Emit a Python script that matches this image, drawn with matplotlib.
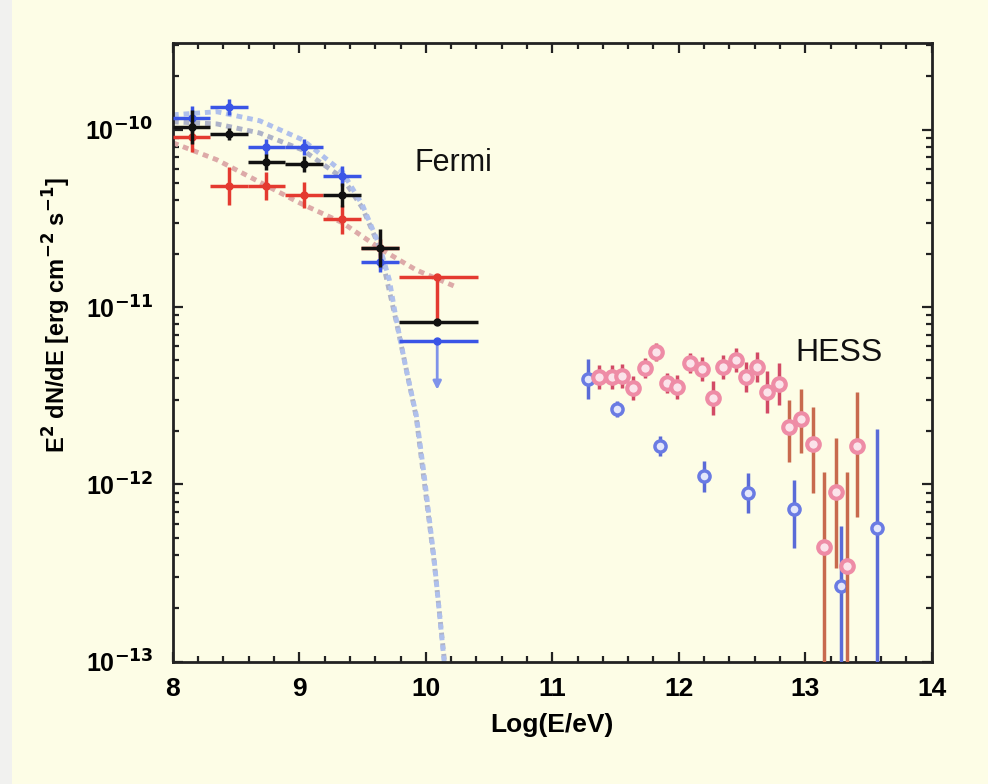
import numpy as np
import matplotlib
matplotlib.use('Agg')
import matplotlib.pyplot as plt
from matplotlib import font_manager
from matplotlib.ticker import MultipleLocator, FixedLocator, LogLocator

# Fermi bins (log E) and fluxes for three states
fermi_x = [8.15, 8.44, 8.74, 9.04, 9.34, 9.64, 10.09]
fermi_lo = [8.0, 8.29, 8.59, 8.89, 9.19, 9.49, 9.79]
fermi_hi = [8.29, 8.59, 8.89, 9.19, 9.49, 9.79, 10.41]

blue_y = [1.16e-10, 1.35e-10, 8.05e-11, 8.05e-11, 5.5e-11, 1.8e-11, 6.4e-12]
blue_ylo = [0.99e-10, 1.22e-10, 7.25e-11, 7.25e-11, 4.83e-11, 1.58e-11, 6.4e-12]
blue_yhi = [1.36e-10, 1.50e-10, 8.9e-11, 8.9e-11, 6.26e-11, 2.05e-11, 6.4e-12]
blue_ul_to = 3.3e-12

black_y = [1.04e-10, 9.5e-11, 6.6e-11, 6.4e-11, 4.3e-11, 2.15e-11, 8.2e-12]
black_ylo = [0.835e-10, 8.8e-11, 5.95e-11, 5.77e-11, 3.67e-11, 1.68e-11, 8.2e-12]
black_yhi = [1.30e-10, 1.03e-10, 7.3e-11, 7.1e-11, 5.04e-11, 2.75e-11, 8.2e-12]

red_y = [9.1e-11, 4.83e-11, 4.83e-11, 4.3e-11, 3.13e-11, 2.15e-11, 1.48e-11]
red_ylo = [7.5e-11, 3.77e-11, 4.02e-11, 3.63e-11, 2.6e-11, 1.9e-11, 8.2e-12]
red_yhi = [1.10e-10, 6.2e-11, 5.8e-11, 5.1e-11, 3.75e-11, 2.43e-11, 1.48e-11]

# model curves
cblue_x = [8.0, 8.347, 8.686, 9.025, 9.341, 9.498, 9.632, 9.711, 9.767, 9.845, 9.924, 9.987, 10.066, 10.145, 10.17]
cblue_y = [1.216e-10, 1.265e-10, 1.125e-10, 8.79e-11, 5.79e-11, 3.78e-11, 2.24e-11, 1.43e-11, 8.47e-12,
           4.43e-12, 2.47e-12, 1.13e-12, 3.76e-13, 1.0e-13, 6e-14]
cgrey_x = [8.0, 8.347, 8.686, 9.025, 9.341, 9.498, 9.632, 9.767, 9.924, 10.066, 10.18]
cgrey_y = [1.11e-10, 1.08e-10, 9.6e-11, 7.7e-11, 5.36e-11, 3.63e-11, 2.19e-11, 8.26e-12, 2.40e-12, 3.66e-13, 6e-14]
cred_x = [8.0, 8.347, 8.607, 9.002, 9.341, 9.656, 9.924, 10.24]
cred_y = [8.45e-11, 6.78e-11, 5.43e-11, 3.87e-11, 2.99e-11, 2.10e-11, 1.62e-11, 1.30e-11]

# HESS points
hess_x = [11.37, 11.47, 11.55, 11.64, 11.73, 11.82, 11.91, 11.99, 12.09, 12.18, 12.27, 12.35,
          12.45, 12.53, 12.62, 12.70, 12.79, 12.87, 12.97, 13.06, 13.15, 13.24, 13.33, 13.41]
hess_y = [4.03e-12, 4.03e-12, 4.10e-12, 3.49e-12, 4.53e-12, 5.55e-12, 3.72e-12, 3.56e-12, 4.83e-12,
          4.47e-12, 3.07e-12, 4.62e-12, 5.05e-12, 4.06e-12, 4.59e-12, 3.34e-12, 3.69e-12, 2.10e-12,
          2.33e-12, 1.69e-12, 4.41e-13, 9.1e-13, 3.48e-13, 1.65e-12]
hess_ylo = [3.45e-12, 3.45e-12, 3.51e-12, 2.99e-12, 3.98e-12, 4.94e-12, 3.27e-12, 3.05e-12, 4.24e-12,
            3.82e-12, 2.46e-12, 3.95e-12, 4.32e-12, 3.34e-12, 3.78e-12, 2.54e-12, 2.81e-12, 1.34e-12,
            1.50e-12, 8.9e-13, 1e-14, 3.37e-13, 1e-14, 6.59e-13]
hess_yhi = [4.71e-12, 4.71e-12, 4.79e-12, 4.08e-12, 5.16e-12, 6.24e-12, 4.24e-12, 4.16e-12, 5.50e-12,
            5.23e-12, 3.83e-12, 5.40e-12, 5.90e-12, 4.93e-12, 5.58e-12, 4.39e-12, 4.85e-12, 3.00e-12,
            3.45e-12, 2.73e-12, 1.18e-12, 1.82e-12, 1.18e-12, 3.34e-12]

hessb_x = [11.28, 11.51, 11.85, 12.20, 12.55, 12.91, 13.28, 13.57]
hessb_y = [3.93e-12, 2.66e-12, 1.65e-12, 1.11e-12, 8.9e-13, 7.26e-13, 2.68e-13, 5.66e-13]
hessb_ylo = [3.03e-12, 2.40e-12, 1.45e-12, 0.91e-12, 6.9e-13, 4.38e-13, 1e-14, 1e-14]
hessb_yhi = [5.10e-12, 2.95e-12, 1.88e-12, 1.35e-12, 1.16e-12, 1.06e-12, 5.8e-13, 2.05e-12]

y_major = [1e-13, 1e-12, 1e-11, 1e-10]


def pick_font(names):
    for n in names:
        try:
            font_manager.findfont(n, fallback_to_default=False)
            return n
        except Exception:
            pass
    return 'DejaVu Sans'


axis_font = pick_font(['Liberation Sans Narrow', 'Liberation Sans', 'DejaVu Sans'])
label_font = pick_font(['Liberation Sans', 'DejaVu Sans'])

plt.rcParams['font.family'] = [axis_font, 'DejaVu Sans']
plt.rcParams['font.weight'] = 'bold'
plt.rcParams['axes.labelweight'] = 'bold'
plt.rcParams['mathtext.default'] = 'bf'

cream = '#FDFDE6'
fig = plt.figure(figsize=(9.88, 7.84), dpi=100, facecolor=cream)
fig.patches.append(plt.Rectangle((0, 0), 12 / 988, 1, transform=fig.transFigure,
                                 facecolor='#F1F1EF', edgecolor='none'))
ax = fig.add_axes([0.175, 0.156, 0.768, 0.7895])
ax.set_facecolor(cream)


def errs(y, lo, hi):
    y = np.array(y)
    return [y - np.array(lo), np.array(hi) - y]


xerr = [np.array(fermi_x) - np.array(fermi_lo), np.array(fermi_hi) - np.array(fermi_x)]

# model curves
ax.plot(cred_x, cred_y, color='#DDAAA8', lw=3.5, ls=(0, (1.2, 1.0)), zorder=2)
ax.plot(cgrey_x, cgrey_y, color='#AEB3C8', lw=3.5, ls=(0, (1.2, 1.0)), zorder=2)
ax.plot(cblue_x, cblue_y, color='#AFC0EC', lw=3.5, ls=(0, (1.2, 1.0)), zorder=2)

# Fermi points
ax.errorbar(fermi_x, blue_y, xerr=xerr, yerr=errs(blue_y, blue_ylo, blue_yhi), fmt='o', ms=5,
            color='#3A55E6', elinewidth=2.5, capsize=0, zorder=4)
ax.annotate('', xy=(fermi_x[-1], blue_ul_to), xytext=(fermi_x[-1], blue_y[-1]),
            arrowprops=dict(arrowstyle='-|>', color='#7F93EA', lw=2, mutation_scale=12), zorder=4)
ax.errorbar(fermi_x, red_y, xerr=xerr, yerr=errs(red_y, red_ylo, red_yhi), fmt='o', ms=5,
            color='#E43A30', elinewidth=2.5, capsize=0, zorder=5)
ax.errorbar(fermi_x, black_y, xerr=xerr, yerr=errs(black_y, black_ylo, black_yhi), fmt='o', ms=5,
            color='#111111', elinewidth=2.5, capsize=0, zorder=6)

# HESS points
ax.errorbar(hessb_x, hessb_y, yerr=errs(hessb_y, hessb_ylo, hessb_yhi), fmt='o', ms=8,
            mfc='#E4E7FB', mec='#6A7BE3', mew=2.5, ecolor='#5A6BD8', elinewidth=2.5, capsize=0, zorder=4)
n1 = 17
ax.errorbar(hess_x[:n1], hess_y[:n1], yerr=errs(hess_y[:n1], hess_ylo[:n1], hess_yhi[:n1]), fmt='o', ms=9,
            mfc='#FBE3EA', mec='#EE8CA6', mew=3, ecolor='#D24B66', elinewidth=2.5, capsize=0, zorder=5)
ax.errorbar(hess_x[n1:], hess_y[n1:], yerr=errs(hess_y[n1:], hess_ylo[n1:], hess_yhi[n1:]), fmt='o', ms=9,
            mfc='#FBE3EA', mec='#EE8CA6', mew=3, ecolor='#C86A4E', elinewidth=2.5, capsize=0, zorder=5)

ax.set_xlim(8, 14)
ax.set_yscale('log')
ax.set_ylim(1e-13, 3.1e-10)

ax.xaxis.set_major_locator(MultipleLocator(1))
ax.xaxis.set_minor_locator(MultipleLocator(0.2))
ax.yaxis.set_major_locator(FixedLocator(y_major))
ax.set_yticklabels([r'10$^{%d}$' % round(np.log10(v)) for v in y_major])
ax.yaxis.set_minor_locator(LogLocator(base=10, subs=np.arange(2, 10), numticks=20))

ax.tick_params(which='both', direction='in', top=True, right=True, width=1.6, color='#222222')
ax.tick_params(which='major', length=7)
ax.tick_params(which='minor', length=4)
ax.tick_params(axis='x', which='major', pad=11, labelsize=19)
ax.tick_params(axis='y', which='major', pad=14, labelsize=18)
for s in ax.spines.values():
    s.set_linewidth(2)
    s.set_color('#222222')

ax.set_xlabel('Log(E/eV)', fontsize=19)
ax.set_ylabel(r'E$^{2}$ dN/dE [erg cm$^{-2}$ s$^{-1}$]', fontsize=17)
ax.xaxis.set_label_coords(0.5, -0.083)
ax.yaxis.set_label_coords(-0.132, 0.56)

ax.text(0.319, 0.793, 'Fermi', transform=ax.transAxes, fontsize=22, family=label_font,
        fontweight='normal', color='#111111', va='baseline')
ax.text(0.820, 0.485, 'HESS', transform=ax.transAxes, fontsize=23, family=label_font,
        fontweight='normal', color='#111111', va='baseline')

fig.savefig('out.png', dpi=100, facecolor=cream)
